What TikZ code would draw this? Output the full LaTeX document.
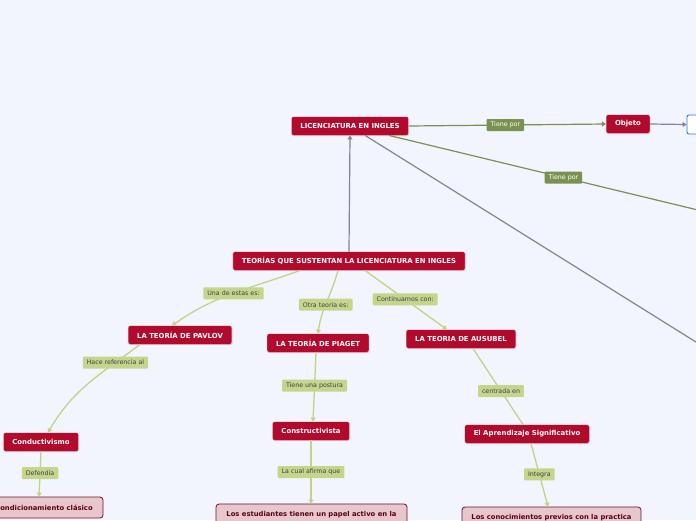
\documentclass[tikz,border=0pt]{standalone}
\usepackage{fontspec}
\setmainfont{DejaVu Sans}
\usepackage{xcolor}
\definecolor{bgblue}{RGB}{242,245,254}
\definecolor{mapred}{RGB}{178,10,44}
\definecolor{leafgreen}{RGB}{197,214,140}
\definecolor{linegreen}{RGB}{192,212,132}
\definecolor{darkgreen}{RGB}{122,145,80}
\definecolor{mapgray}{RGB}{128,132,148}
\definecolor{pinkfill}{RGB}{232,199,204}
\definecolor{pinkdraw}{RGB}{110,20,40}
\definecolor{pinktext}{RGB}{90,0,20}
\definecolor{boxblue}{RGB}{40,120,220}
\usetikzlibrary{arrows.meta,shadows}

\begin{document}
\begin{tikzpicture}[
  x=1pt, y=-1pt,
  topic/.style={rectangle, fill=mapred, draw=white!80!mapred, rounded corners=2pt,
                text=white, font=\fontsize{6.9}{8}\selectfont\bfseries,
                minimum height=18.5pt, inner xsep=9pt,
                drop shadow={opacity=0.25, shadow xshift=0.5pt, shadow yshift=-0.8pt}},
  subtopic/.style={rectangle, fill=pinkfill, draw=pinkdraw, line width=0.8pt,
                   rounded corners=3pt, text=pinktext,
                   font=\fontsize{6.8}{8}\selectfont\bfseries, minimum height=21pt},
  lbl/.style={rectangle, fill=leafgreen, rounded corners=1pt, text=black!75,
              font=\fontsize{6.3}{7.5}\selectfont, inner xsep=4pt, inner ysep=2pt,
              minimum height=12pt},
  dlbl/.style={lbl, fill=darkgreen, text=white},
  link/.style={linegreen, line width=1.3pt, -{Triangle[length=4pt,width=5pt]}},
  mainlink/.style={darkgreen, line width=1.2pt, -{Triangle[length=4pt,width=5pt]}},
  graylink/.style={mapgray, line width=1.2pt, -{Triangle[length=4pt,width=5pt]}}
]
  \useasboundingbox (0,0) rectangle (696,520);
  \fill[bgblue] (0,0) rectangle (696,520);
  \clip (0,0) rectangle (696,520);

  % Central topic and first row
  \node[topic] (lic) at (350,126) {LICENCIATURA EN INGLES};
  \node[topic] (obj) at (628,124) {Objeto};
  \node[rectangle, draw=boxblue, fill=white, line width=0.9pt, rounded corners=2pt,
        minimum width=26pt, minimum height=19pt] (objbox) at (700,124.5) {};
  \coordinate (out1) at (760,225);
  \coordinate (out2) at (760,382);

  % Theories
  \node[topic] (teo) at (349,261) {TEORÍAS QUE SUSTENTAN LA LICENCIATURA EN INGLES};
  \node[topic] (pav) at (180,335) {LA TEORÍA DE PAVLOV};
  \node[topic] (pia) at (318,343) {LA TEORÍA DE PIAGET};
  \node[topic] (aus) at (461,339) {LA TEORIA DE AUSUBEL};

  % Second level
  \node[topic] (cond) at (41,442) {Conductivismo};
  \node[topic] (cons) at (311,431) {Constructivista};
  \node[topic] (apr) at (527,434) {El Aprendizaje Significativo};

  % Leaves (cut by the page edge)
  \node[subtopic, minimum width=118pt] (clas) at (44,507.5) {Condicionamiento clásico};
  \node[subtopic, minimum width=191pt] (est) at (311.5,514.5)
       {Los estudiantes tienen un papel activo en la};
  \node[subtopic, minimum width=179pt] (prev) at (551.5,517.5)
       {Los conocimientos previos con la practica};

  % Connectors from the central topic
  \draw[mainlink] (lic.east) -- node[dlbl, pos=0.49] (l1) {Tiene por} (obj.west);
  \draw[graylink] (obj.east) -- (objbox.west);
  \draw[darkgreen, line width=1.2pt] (lic) -- node[dlbl, pos=0.47] (l2) {Tiene por} (out1);
  \draw[mapgray, line width=1.2pt] (lic) -- (out2);
  \draw[graylink] (teo.north) -- (lic.south);

  % Connectors of the theories
  \draw[link] ([xshift=-49pt]teo.south) to[out=200, in=35]
       node[lbl, pos=0.5] (l3) {Una de estas es:} ([xshift=-8pt]pav.north);
  \draw[link] ([xshift=-11pt]teo.south) to[out=-105, in=82]
       node[lbl, pos=0.55] (l4) {Otra teoría es:} (pia.north);
  \draw[link] ([xshift=16pt]teo.south) --
       node[lbl, pos=0.49] (l5) {Continuamos con:} ([xshift=-14pt]aus.north);
  \draw[link] ([xshift=-40pt]pav.south) to[out=217, in=60]
       node[lbl, pos=0.22] (l6) {Hace referencia al} ([xshift=7pt]cond.north);
  \draw[link] (cond.south) -- node[lbl, pos=0.48] (l7) {Defendía} ([xshift=-5pt]clas.north);
  \draw[link] ([xshift=-2pt]pia.south) --
       node[lbl, pos=0.48] (l8) {Tiene una postura} ([xshift=2pt]cons.north);
  \draw[link] (cons.south) -- node[lbl, pos=0.5] (l9) {La cual afirma que} ([xshift=-0.5pt]est.north);
  \draw[linegreen, line width=1.3pt] ([xshift=12pt]aus.south) --
       node[lbl, pos=0.56] (l10) {centrada en} ([xshift=-4pt]apr.north);
  \draw[link] ([xshift=4pt]apr.south) --
       node[lbl, pos=0.49] (l11) {Integra} ([xshift=-3.5pt]prev.north);
\end{tikzpicture}
\end{document}
